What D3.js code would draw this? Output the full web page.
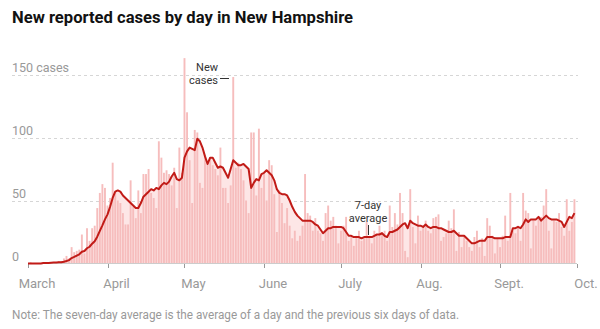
<!DOCTYPE html>
<html>
<head>
<meta charset="utf-8">
<script src="https://cdn.jsdelivr.net/npm/d3@7"></script>
<style>
  body { margin: 0; background: #fff; }
  svg { display: block; font-family: Roboto, "Liberation Sans", Arial, sans-serif; }
</style>
</head>
<body>
<svg width="600" height="329"></svg>
<script>
// daily new cases, March 1 to Sept. 30
const newCases = [
  // March
  0, 1, 0, 0, 0, 0, 1, 0, 0, 1, 1, 0, 2, 2, 4, 6, 4, 13, 9, 10,
  11, 23, 8, 28, 18, 28, 30, 44, 56, 63, 60,
  // April
  46, 52, 80, 56, 50, 48, 40, 31, 31, 66, 45, 36, 58, 40, 71, 71, 75, 56, 52, 44,
  97, 84, 72, 74, 71, 62, 76, 44, 92, 72,
  // May
  163, 120, 82, 48, 106, 104, 64, 60, 85, 80, 84, 78, 75, 70, 92, 60, 60, 48, 62, 148,
  76, 80, 75, 66, 50, 40, 104, 104, 54, 107, 60,
  // June
  71, 50, 82, 78, 55, 25, 58, 48, 32, 44, 30, 20, 26, 18, 22, 30, 71, 40, 38, 26,
  36, 26, 24, 18, 40, 46, 34, 37, 30, 16,
  // July
  26, 30, 37, 18, 21, 14, 22, 26, 18, 20, 33, 21, 16, 26, 22, 30, 25, 26, 18, 46,
  29, 40, 31, 56, 40, 10, 5, 59, 29, 16, 38,
  // August
  26, 30, 34, 26, 24, 36, 37, 39, 18, 21, 24, 34, 28, 43, 10, 25, 13, 22, 18, 13,
  10, 21, 26, 13, 20, 6, 36, 30, 22, 8, 20,
  // September
  13, 22, 38, 18, 56, 26, 24, 30, 18, 56, 42, 40, 12, 34, 30, 37, 37, 46, 59, 26,
  12, 34, 33, 40, 29, 22, 51, 26, 33, 51
];

// 7-day average, same days
const avg7 = [
  // March
  0, 0, 0, 0, 0, 0, 0.4, 0.4, 0.4, 0.6, 0.7, 0.7, 0.9, 1, 1.4, 2, 2.7, 4.3, 5.2, 6.3,
  7.3, 9.3, 9.9, 12.1, 13.3, 15.7, 17.7, 21.3, 25.9, 30.3, 35,
  // April
  39, 45, 52, 57, 58, 57, 54, 52, 50, 48, 46, 44, 44, 48, 53, 55, 57, 59, 58, 60,
  59, 62, 64, 63, 65, 69, 72, 67, 66, 68,
  // May
  84, 89, 92, 91, 90, 99, 97, 92, 85, 79, 84, 84, 80, 76, 77, 76, 72, 68, 75, 82,
  80, 78, 78, 79, 77, 75, 60, 64, 67, 66, 71,
  // June
  72, 74, 72, 70, 66, 59, 56, 55, 55, 54, 50, 45, 41, 38, 36, 34, 34, 34, 34, 33,
  31, 30, 27, 24, 26, 28, 28, 29, 29, 29,
  // July
  29, 28, 25, 22, 22, 21, 21, 21, 20, 21, 21, 21, 21, 22, 23, 23, 24, 22, 21, 25,
  25, 26, 27, 29, 31, 32, 28, 34, 32, 31, 30,
  // August
  30, 29, 31, 29, 28, 29, 29, 28, 28, 27, 26, 25, 25, 26, 24, 22, 22, 22, 20, 18,
  16, 16, 17, 18, 18, 18, 21, 21, 21, 20, 20,
  // September
  20, 20, 21, 21, 21, 28, 28, 29, 28, 31, 35, 33, 35, 35, 35, 37, 34, 36, 38, 36,
  35, 35, 35, 34, 33, 29, 33, 37, 36, 40
];

const monthLabels = ["March", "April", "May", "June", "July", "Aug.", "Sept.", "Oct."];
const yTicks = [0, 50, 100, 150];
const yTickLabels = ["0", "50", "100", "150 cases"];

const start = new Date(2020, 2, 1),
      end = new Date(2020, 9, 1);
const days = d3.timeDay.range(start, end);
const data = days.map((d, i) => ({ date: d, cases: newCases[i], avg: avg7[i] }));

const svg = d3.select("svg");

const x = d3.scaleTime()
            .domain([start, end])
            .range([28, 577]);

const y = d3.scaleLinear()
            .domain([0, 150])
            .range([263.5, 74.5]);

// title
svg.append("text")
   .attr("x", 12)
   .attr("y", 23)
   .attr("font-size", 16)
   .attr("font-weight", 700)
   .attr("fill", "#121212")
   .attr("textLength", 341)
   .attr("lengthAdjust", "spacingAndGlyphs")
   .text("New reported cases by day in New Hampshire");

// gridlines and their labels
svg.selectAll(".grid")
   .data(yTicks.filter(d => d > 0))
   .enter()
   .append("line")
   .attr("class", "grid")
   .attr("x1", 12)
   .attr("x2", 578)
   .attr("y1", d => Math.round(y(d)) + 0.5)
   .attr("y2", d => Math.round(y(d)) + 0.5)
   .attr("stroke", "#d6d6d6")
   .attr("stroke-dasharray", "3,3");

svg.selectAll(".ylabel")
   .data(yTicks)
   .enter()
   .append("text")
   .attr("class", "ylabel")
   .attr("x", 12)
   .attr("y", d => y(d) - 2.5)
   .attr("font-size", 12.5)
   .attr("fill", "#999")
   .text((d, i) => yTickLabels[i]);

// area under the average
const area = d3.area()
               .x(d => x(d.date))
               .y0(y(0))
               .y1(d => y(d.avg));

svg.append("path")
   .datum(data)
   .attr("d", area)
   .attr("fill", "#fde6e6");

// daily bars
svg.selectAll(".bar")
   .data(data)
   .enter()
   .append("rect")
   .attr("class", "bar")
   .attr("x", d => x(d.date) - 0.95)
   .attr("y", d => y(d.cases))
   .attr("width", 1.9)
   .attr("height", d => y(0) - y(d.cases))
   .attr("fill", "#f6bdbd");

// baseline and month ticks
svg.append("line")
   .attr("x1", 28)
   .attr("x2", 577)
   .attr("y1", 263.5)
   .attr("y2", 263.5)
   .attr("stroke", "#ccc");

const months = d3.timeMonth.range(start, d3.timeDay.offset(end, 1));

svg.selectAll(".tick")
   .data(months)
   .enter()
   .append("line")
   .attr("class", "tick")
   .attr("x1", d => Math.round(x(d)) + 0.5)
   .attr("x2", d => Math.round(x(d)) + 0.5)
   .attr("y1", 264)
   .attr("y2", 268)
   .attr("stroke", "#999");

svg.selectAll(".xlabel")
   .data(months)
   .enter()
   .append("text")
   .attr("class", "xlabel")
   .attr("x", d => x(d) + 9)
   .attr("y", 288)
   .attr("text-anchor", "middle")
   .attr("font-size", 13)
   .attr("fill", "#999")
   .text((d, i) => monthLabels[i]);

// 7-day average line
const line = d3.line()
               .x(d => x(d.date))
               .y(d => y(d.avg));

svg.append("path")
   .datum(data)
   .attr("d", line)
   .attr("fill", "none")
   .attr("stroke", "#c11b17")
   .attr("stroke-width", 2)
   .attr("stroke-linejoin", "round");

// annotations
const note = svg.append("g")
                .attr("font-size", 11)
                .attr("fill", "#333");

note.append("text")
    .attr("x", 218).attr("y", 71)
    .attr("text-anchor", "end")
    .text("New");
note.append("text")
    .attr("x", 218).attr("y", 83.5)
    .attr("text-anchor", "end")
    .text("cases");
note.append("line")
    .attr("x1", 220).attr("x2", 229)
    .attr("y1", 78.5).attr("y2", 78.5)
    .attr("stroke", "#333");

note.append("text")
    .attr("x", 368).attr("y", 209)
    .attr("text-anchor", "middle")
    .text("7-day");
note.append("text")
    .attr("x", 368).attr("y", 221.5)
    .attr("text-anchor", "middle")
    .text("average");
note.append("line")
    .attr("x1", 368.5).attr("x2", 368.5)
    .attr("y1", 225).attr("y2", 235)
    .attr("stroke", "#333");

// footnote
svg.append("text")
   .attr("x", 12)
   .attr("y", 319)
   .attr("font-size", 12)
   .attr("fill", "#999")
   .attr("textLength", 447)
   .attr("lengthAdjust", "spacingAndGlyphs")
   .text("Note: The seven-day average is the average of a day and the previous six days of data.");
</script>
</body>
</html>
